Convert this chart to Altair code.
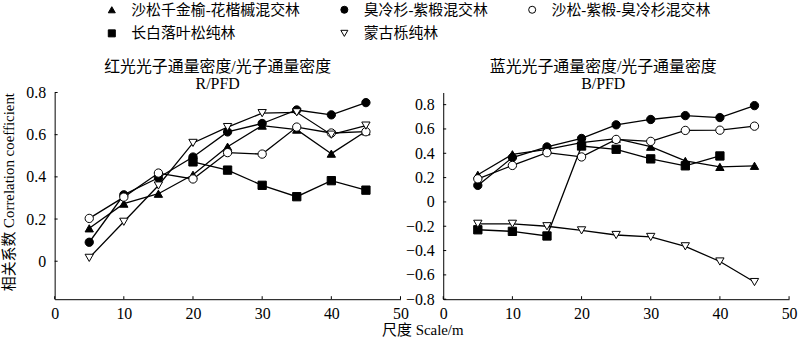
import altair as alt
import pandas as pd

FONT = "'Liberation Serif', 'Noto Sans CJK SC'"

scales = [5, 10, 15, 20, 25, 30, 35, 40, 45]
series_names = ["沙松千金榆-花楷槭混交林", "臭冷杉-紫椴混交林", "沙松-紫椴-臭冷杉混交林",
                "长白落叶松纯林", "蒙古栎纯林"]
shapes = ["triangle-up", "circle", "circle", "square", "triangle-down"]
fills = ["black", "black", "white", "black", "white"]
strokes = ["black", "black", "black", "black", "black"]

# R/PFD panel
r_tri = [0.156, 0.273, 0.32, 0.41, 0.543, 0.643, 0.624, 0.51, 0.616]
r_fcirc = [0.09, 0.315, 0.396, 0.494, 0.613, 0.653, 0.717, 0.694, 0.752]
r_ocirc = [0.203, 0.304, 0.418, 0.39, 0.515, 0.508, 0.636, 0.608, 0.614]
r_sq = [None, None, None, 0.471, 0.432, 0.36, 0.306, 0.382, 0.337]
r_dtri = [0.016, 0.187, 0.359, 0.561, 0.636, 0.702, 0.706, 0.6, 0.643]

# B/PFD panel
b_tri = [0.223, 0.392, 0.433, 0.487, 0.52, 0.454, 0.337, 0.288, 0.297]
b_fcirc = [0.136, 0.365, 0.452, 0.522, 0.634, 0.678, 0.71, 0.694, 0.792]
b_ocirc = [0.19, 0.3, 0.405, 0.37, 0.514, 0.498, 0.588, 0.59, 0.623]
b_sq = [-0.229, -0.242, -0.28, 0.46, 0.433, 0.354, 0.297, 0.378, None]
b_dtri = [-0.18, -0.18, -0.2, -0.234, -0.272, -0.288, -0.365, -0.49, -0.659]

x_ticks = [0, 10, 20, 30, 40, 50]
r_yticks = [0, 0.2, 0.4, 0.6, 0.8]
b_yticks = [-0.8, -0.6, -0.4, -0.2, 0, 0.2, 0.4, 0.6, 0.8]

W, H = 348, 208


def build(values_list):
    rows = []
    for name, vals in zip(series_names, values_list):
        for s, v in zip(scales, vals):
            if v is not None:
                rows.append({"scale": s, "value": v, "series": name})
    return pd.DataFrame(rows)


legend = alt.Legend(
    orient="none", legendX=50, legendY=-91, columns=3, direction="horizontal",
    title=None,
    labelFont=FONT, labelFontSize=15, labelColor="black", labelLimit=400,
    symbolSize=50, symbolStrokeColor="black", symbolStrokeWidth=1,
    labelOffset=12, columnPadding=37, rowPadding=8,
)


def panel(df, ydomain, yticks, title_lines, dx, dy, xtitle, ytitle):
    xaxis_kw = dict(values=x_ticks, format="d", labelFlush=False, labelPadding=6,
                    labelOverlap=False)
    if xtitle:
        xaxis_kw.update(title=xtitle, titleX=370, titleY=31, titleBaseline="middle",
                        titleAlign="center", titleFont=FONT, titleFontSize=15,
                        titleFontWeight="normal", titleColor="black")
    else:
        xaxis_kw.update(title=None)
    yaxis_kw = dict(values=yticks, labelPadding=9, labelOverlap=False,
                    labelExpr="datum.value == 0 ? '0' : format(datum.value, '.1f')")
    if ytitle:
        yaxis_kw.update(title=ytitle, titleFont=FONT, titleFontSize=15,
                        titleFontWeight="normal", titleColor="black", titlePadding=9,
                        titleAnchor="end")
    else:
        yaxis_kw.update(title=None)

    x = alt.X("scale:Q", scale=alt.Scale(domain=[0, 50], nice=False, zero=False),
              axis=alt.Axis(**xaxis_kw))
    y = alt.Y("value:Q", scale=alt.Scale(domain=ydomain, nice=False, zero=False),
              axis=alt.Axis(**yaxis_kw))

    base = alt.Chart(df)
    lines = base.mark_line(color="black", strokeWidth=1.3).encode(
        x=x, y=y, detail="series:N")
    pts = base.mark_point(strokeWidth=1, size=70, opacity=1,
                          fillOpacity=1).encode(
        x=x, y=y,
        shape=alt.Shape("series:N", scale=alt.Scale(domain=series_names, range=shapes),
                        legend=legend),
        fill=alt.Fill("series:N", scale=alt.Scale(domain=series_names, range=fills),
                      legend=legend),
        stroke=alt.Stroke("series:N", scale=alt.Scale(domain=series_names, range=strokes),
                          legend=legend),
    )
    xt = alt.Chart(pd.DataFrame({"scale": x_ticks})).mark_rule(
        color="black", strokeWidth=1).encode(
        x=x, y=alt.value(H), y2=alt.value(H - 3))
    yt = alt.Chart(pd.DataFrame({"value": yticks})).mark_rule(
        color="black", strokeWidth=1).encode(
        y=y, x=alt.value(0), x2=alt.value(3))

    return alt.layer(lines, xt, yt, pts).properties(
        width=W, height=H,
        title=alt.TitleParams(text=title_lines, font=FONT, fontSize=16,
                              fontWeight="normal", color="black", anchor="middle",
                              frame="group", baseline="bottom",
                              lineHeight=17, offset=1, dx=dx, dy=dy),
    )


left = panel(build([r_tri, r_fcirc, r_ocirc, r_sq, r_dtri]), [-0.18, 0.8], r_yticks,
             ["红光光子通量密度/光子通量密度", "R/PFD"], -10, 24, "尺度 Scale/m",
             "相关系数 Correlation coefficient")
right = panel(build([b_tri, b_fcirc, b_ocirc, b_sq, b_dtri]), [-0.8, 0.9], b_yticks,
              ["蓝光光子通量密度/光子通量密度", "B/PFD"], -13, 16, None, None)

chart = alt.hconcat(left, right, spacing=43, bounds="flush").properties(
    padding={"left": 1, "top": 1, "right": 3, "bottom": 3},
    background="white",
).configure_view(stroke=None).configure_axis(
    domainColor="black", domainWidth=1, ticks=False, grid=False,
    labelFont="Liberation Serif", labelFontSize=16, labelColor="black",
)

chart.save("out.html", embed_options={"renderer": "svg", "actions": False})
